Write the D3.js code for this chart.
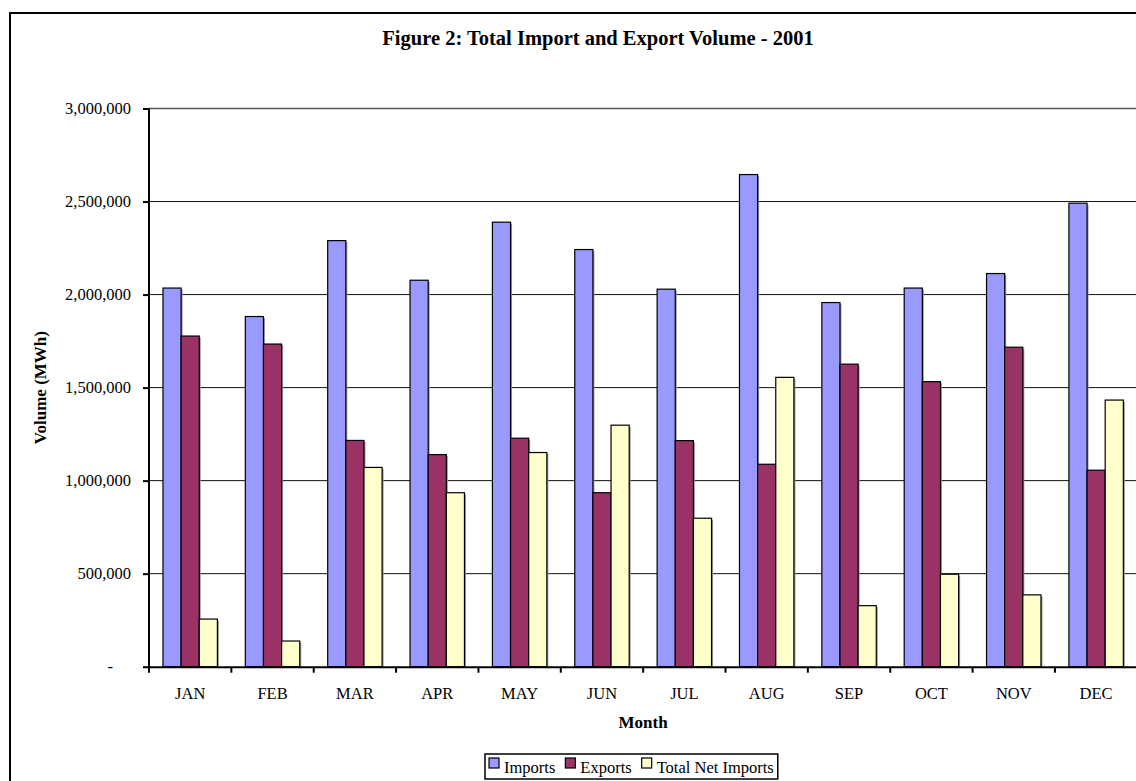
<!DOCTYPE html>
<html>
<head>
<meta charset="utf-8">
<script src="https://cdn.jsdelivr.net/npm/d3@7"></script>
<style>
  html, body { margin: 0; padding: 0; background: #fff; }
  svg { display: block; }
  text { font-family: "Liberation Serif", "Times New Roman", serif; fill: #000; }
</style>
</head>
<body>
<svg id="chart" width="1136" height="781"></svg>
<script>
const months = ["JAN","FEB","MAR","APR","MAY","JUN","JUL","AUG","SEP","OCT","NOV","DEC"];
const seriesNames = ["Imports","Exports","Total Net Imports"];
const importVals = [2035000,1882000,2290000,2077000,2389000,2242000,2029000,2645000,1957000,2035000,2113000,2491000];
const exportVals = [1777000,1734000,1216000,1140000,1228000,935000,1215000,1088000,1626000,1532000,1717000,1056000];
const netImportVals = [256000,138000,1071000,935000,1151000,1298000,798000,1555000,328000,497000,386000,1433000];
const yTicks = [0,500000,1000000,1500000,2000000,2500000,3000000];
const colors = ["#9999FF","#993366","#FFFFCC"];
const titleText = "Figure 2: Total Import and Export Volume - 2001";
const xTitle = "Month";
const yTitle = "Volume (MWh)";

const svg = d3.select("#chart");
const pL = 149, pR = 1137.3, pT = 108.5, pB = 666.7;

// outer chart border (cropped at right/bottom like reference)
svg.append("rect").attr("x",10).attr("y",13).attr("width",1140).attr("height",790)
  .attr("fill","#fff").attr("stroke","#000").attr("stroke-width",2);

const x0 = d3.scaleBand().domain(months).range([pL, pR]).padding(0);
const x1 = d3.scaleBand().domain(seriesNames).range([0, x0.bandwidth()]).paddingInner(0).paddingOuter(0.77);
const y = d3.scaleLinear().domain([0, 3000000]).range([pB, pT]);

// gridlines
svg.append("g").selectAll("line").data(yTicks.filter(d => d > 0)).join("line")
  .attr("x1", pL).attr("x2", pR).attr("y1", d => y(d)).attr("y2", d => y(d))
  .attr("stroke", d => d === 3000000 ? "#555" : "#111").attr("stroke-width", d => d === 3000000 ? 1.5 : 1);

// bars
const data = months.map((m,i) => ({m, vals:[importVals[i], exportVals[i], netImportVals[i]]}));
const groups = svg.append("g").selectAll("g").data(data).join("g")
  .attr("transform", d => `translate(${x0(d.m)},0)`);
groups.selectAll("rect.sh").data(d => d.vals.map((v,j)=>({v, s:seriesNames[j], j}))).join("rect")
  .attr("class","sh")
  .attr("x", d => x1(d.s) + 1.5).attr("y", d => y(d.v) + 1.5)
  .attr("width", x1.bandwidth()).attr("height", d => pB - y(d.v) - 1.5)
  .attr("fill", "#999");
groups.selectAll("rect.bar").data(d => d.vals.map((v,j)=>({v, s:seriesNames[j], j}))).join("rect")
  .attr("class","bar")
  .attr("x", d => x1(d.s)).attr("y", d => y(d.v))
  .attr("width", x1.bandwidth()).attr("height", d => pB - y(d.v))
  .attr("fill", d => colors[d.j]).attr("stroke", "#000").attr("stroke-width", 1.2);

// y axis
const yAxis = svg.append("g").attr("transform", `translate(${pL},0)`)
  .call(d3.axisLeft(y).tickValues(yTicks).tickSize(6).tickPadding(12)
    .tickFormat(d => d === 0 ? "-" : d3.format(",")(d)));
yAxis.select(".domain").attr("stroke","#000").attr("stroke-width",2).attr("d", `M0,${pT}V${pB+6}`);
yAxis.selectAll(".tick line").attr("stroke","#000").attr("stroke-width",2);
yAxis.selectAll(".tick text").style("font-size","16.5px").attr("fill","#000");
yAxis.selectAll(".tick").filter(d => d === 0).select("text").attr("x", -36);

// x axis
const xAxis = svg.append("g").attr("transform", `translate(0,${pB})`)
  .call(d3.axisBottom(x0).tickSize(0).tickPadding(21));
xAxis.select(".domain").attr("stroke","#000").attr("stroke-width",2);
xAxis.selectAll(".tick text").style("font-size","16.5px").attr("fill","#000");
svg.append("g").selectAll("line").data(months.slice(1)).join("line")
  .attr("x1", d => x0(d)).attr("x2", d => x0(d)).attr("y1", pB).attr("y2", pB + 6)
  .attr("stroke","#000").attr("stroke-width",2);

// titles
svg.append("text").attr("x", 598).attr("y", 45).attr("text-anchor","middle")
  .style("font-size","20.5px").style("font-weight","bold").text(titleText);
svg.append("text").attr("x", (pL+pR)/2).attr("y", 728).attr("text-anchor","middle")
  .style("font-size","17px").style("font-weight","bold").text(xTitle);
svg.append("text").attr("transform", `translate(46,${(pT+pB)/2}) rotate(-90)`).attr("text-anchor","middle")
  .style("font-size","17px").style("font-weight","bold").text(yTitle);

// legend
const lg = svg.append("g");
const lgBox = lg.append("rect").attr("y",754).attr("height",25).attr("fill","#fff").attr("stroke","#000").attr("stroke-width",1.5);
let cx = 489;
seriesNames.forEach((s,i) => {
  lg.append("rect").attr("x", cx).attr("y", 758).attr("width", 10).attr("height", 10)
    .attr("fill", colors[i]).attr("stroke","#000").attr("stroke-width",1.2);
  const t = lg.append("text").attr("x", cx + 15).attr("y", 773).style("font-size","16.5px").text(s);
  cx = cx + 15 + t.node().getComputedTextLength() + 10;
});
lgBox.attr("x", 485).attr("width", cx - 10 + 4 - 485);
</script>
</body>
</html>
